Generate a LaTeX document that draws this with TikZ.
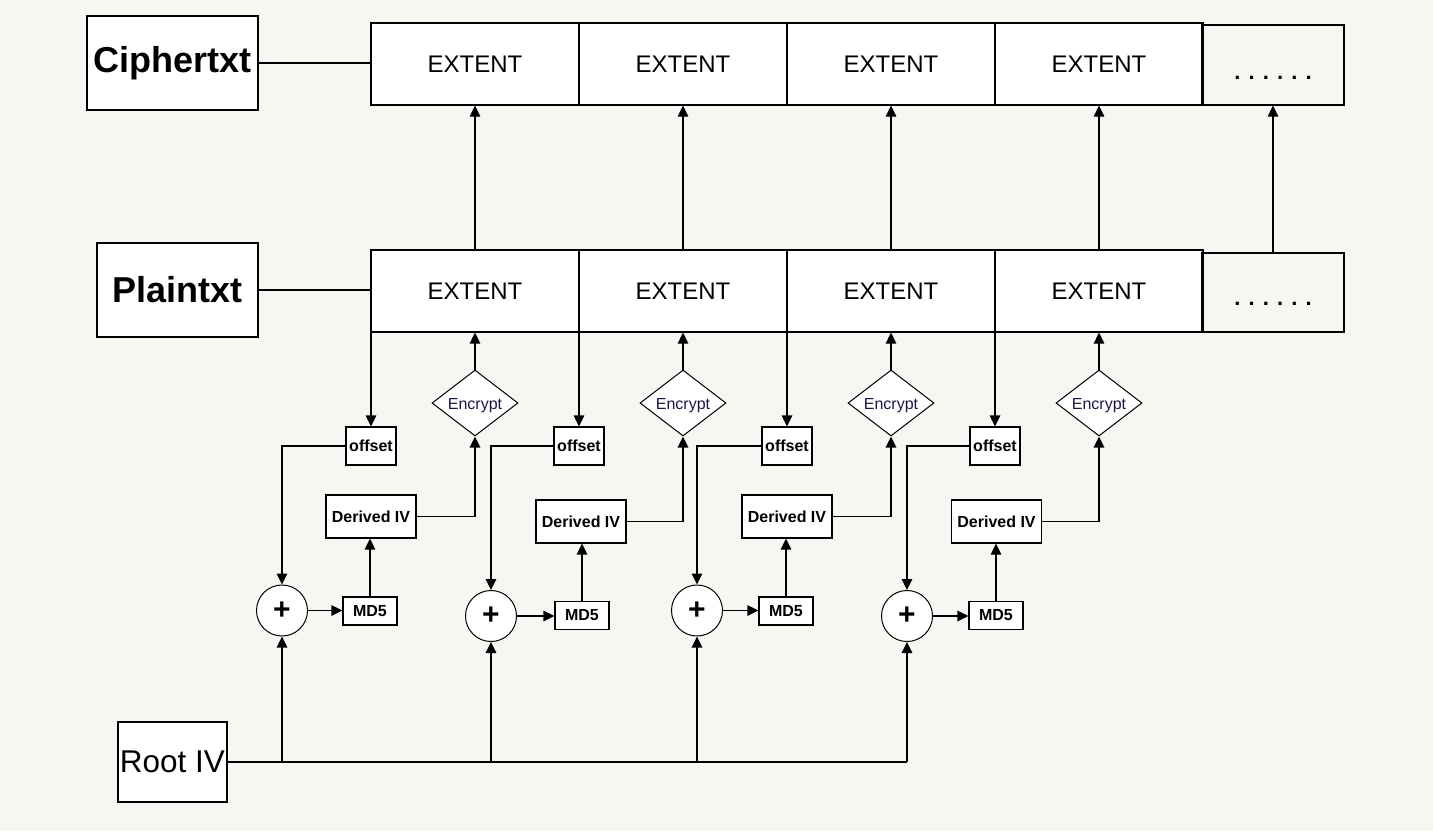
\documentclass[tikz,border=0pt]{standalone}
\usepackage{fontspec}
\setmainfont{Liberation Sans}
\usetikzlibrary{arrows.meta,shapes.geometric}
\definecolor{bg}{RGB}{247,246,242}
\definecolor{enc}{RGB}{25,25,70}
\tikzset{
  box/.style={draw,fill=white,line width=1.2pt,inner sep=0pt},
  bigbox/.style={box,font=\fontsize{36}{40}\selectfont\bfseries},
  extent/.style={box,minimum width=208pt,minimum height=82pt,font=\fontsize{24}{28}\selectfont},
  dotsbox/.style={draw,line width=1.2pt,inner sep=0pt,minimum width=142pt},
  dotstext/.style={inner sep=0pt,anchor=base,font=\fontsize{22}{26}\selectfont\bfseries},
  offbox/.style={box,minimum width=50pt,minimum height=38pt,font=\fontsize{16}{19}\selectfont\bfseries},
  divbox/.style={box,minimum width=90pt,minimum height=43pt,font=\fontsize{16}{19}\selectfont\bfseries},
  mdbox/.style={box,minimum width=54pt,minimum height=28pt,font=\fontsize{16}{19}\selectfont\bfseries},
  encdia/.style={draw,fill=white,line width=1pt,diamond,aspect=1.3,minimum width=86pt,minimum height=66pt,inner sep=0pt,text=enc,font=\fontsize{16}{19}\selectfont},
  plusc/.style={draw,fill=white,line width=1pt,circle,minimum size=51pt,inner sep=0pt,font=\fontsize{30}{32}\selectfont\bfseries},
  conn/.style={line width=1.2pt},
  arr/.style={conn,-{Triangle[length=11pt,width=10.5pt]}},
}
\begin{document}
\begin{tikzpicture}[x=1pt,y=-1pt]
\fill[bg] (0,0) rectangle (1433,831);
\useasboundingbox (0,0) rectangle (1433,831);

% left labels
\node[bigbox,minimum width=171pt,minimum height=94pt] (cipher) at (172.5,63) {Ciphertxt};
\node[bigbox,minimum width=161pt,minimum height=94pt] (plain) at (177.5,290) {Plaintxt};
\node[box,minimum width=109pt,minimum height=80pt,font=\fontsize{31.5}{34}\selectfont] (root) at (172.5,762) {Root IV};

% extent rows
\foreach \i/\x in {1/475,2/683,3/891,4/1099}{
  \node[extent] (c\i) at (\x,64) {EXTENT};
  \node[extent] (p\i) at (\x,291) {EXTENT};
}
\node[dotsbox,minimum height=80pt] (cd) at (1273,65) {};
\node[dotstext] (cdt) at (1273,79) {. . . . . .};
\node[dotsbox,minimum height=79pt] (pd) at (1273,292.5) {};
\node[dotstext] (pdt) at (1273,305) {. . . . . .};

\draw[conn] (cipher.east) -- (c1.west |- cipher.east);
\draw[conn] (plain.east) -- (p1.west |- plain.east);

\foreach \i in {1,2,3,4}{
  \draw[arr] (p\i.north) -- (c\i.south);
}
\draw[arr] (pd.north) -- (cd.south);

% lower units
\foreach \i/\ox/\ex/\dx/\dy/\mx/\my/\px/\py in {
  1/371/475/371/516.5/370/611/282/610.5,
  2/579/683/581/521.5/582/615.5/491/616,
  3/787/891/787/516.5/786/611/697/610.5,
  4/995/1099/996.5/521.5/996/615.5/907/616}{
  \node[offbox] (o\i) at (\ox,446) {offset};
  \node[encdia] (e\i) at (\ex,403) {\raisebox{-3pt}[\height][\depth]{Encrypt}};
  \node[divbox] (d\i) at (\dx,\dy) {Derived IV};
  \node[mdbox] (m\i) at (\mx,\my) {MD5};
  \node[plusc] (s\i) at (\px,\py) {+};
  \draw[arr] (p\i.south -| o\i.north) -- (o\i.north);
  \draw[arr] (e\i.north) -- (p\i.south);
  \draw[arr] (d\i.east) -| (e\i.south);
  \draw[arr] (o\i.west) -| (s\i.north);
  \draw[arr] (s\i.east) -- (m\i.west |- s\i.east);
  \draw[arr] (m\i.north) -- (d\i.south -| m\i.north);
  \draw[arr] (root.east -| s\i.south) -- (s\i.south);
}
\draw[conn] (root.east) -- (root.east -| s4.south);
\end{tikzpicture}
\end{document}
